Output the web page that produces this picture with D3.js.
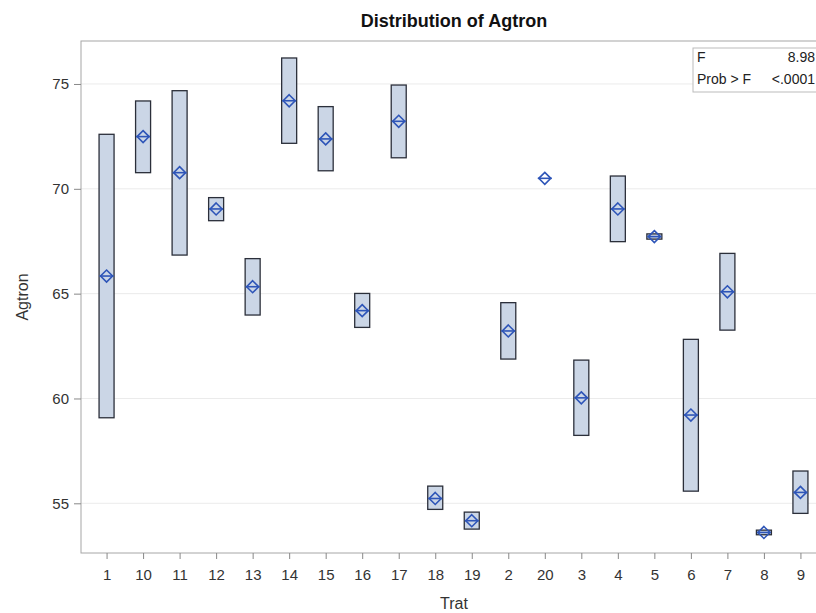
<!DOCTYPE html>
<meta charset="utf-8">
<style>
body { margin: 0; background: #fff; }
svg { display: block; font-family: Arial, "Liberation Sans", sans-serif; }
.axis text { font-size: 15px; fill: #333; }
.axis path, .axis line { stroke: #888; }
</style>
<svg width="816" height="613"></svg>
<script src="https://d3js.org/d3.v7.min.js"></script>
<script>
// Treatment levels, in the (alphabetical) order SAS sorted them
var trats = ["1","10","11","12","13","14","15","16","17","18","19","2","20","3","4","5","6","7","8","9"];
// mean Agtron per treatment
var means = [65.84, 72.49, 70.77, 69.04, 65.33, 74.2, 72.38, 64.19, 73.22, 55.23, 54.17, 63.22, 70.5, 60.03, 69.04, 67.72, 59.21, 65.09, 53.61, 55.52];
// box low / high (min - max of the group)
var lows  = [59.08, 70.77, 66.84, 68.48, 63.98, 72.17, 70.86, 63.39, 71.48, 54.71, 53.77, 61.88, 70.5, 58.24, 67.48, 67.6, 55.58, 63.26, 53.5, 54.52];
var highs = [72.6, 74.19, 74.68, 69.58, 66.67, 76.24, 73.92, 65.01, 74.95, 55.82, 54.58, 64.57, 70.5, 61.83, 70.61, 67.85, 62.82, 66.92, 53.72, 56.54];
var yTicks = [55, 60, 65, 70, 75];
var statLabels = ["F", "Prob > F"];
var statValues = ["8.98", "<.0001"];

// plot area (right side runs past the window, as in the reference crop)
var svg = d3.select("svg"),
    plotL = 81, plotT = 41, plotR = 826, plotB = 553;

var x = d3.scalePoint()
    .domain(trats)
    .range([plotL, plotR])
    .padding(0.7);

var y = d3.scaleLinear()
    .domain([52.63, 77.05])
    .range([plotB, plotT]);

// gridlines
svg.append("g").selectAll("line")
  .data(yTicks)
  .enter().append("line")
    .attr("x1", plotL).attr("x2", plotR)
    .attr("y1", function(d) { return y(d); })
    .attr("y2", function(d) { return y(d); })
    .attr("stroke", "#ebebeb");

// frame
svg.append("rect")
    .attr("x", plotL).attr("y", plotT)
    .attr("width", plotR - plotL).attr("height", plotB - plotT)
    .attr("fill", "none").attr("stroke", "#a6a6a6");

// axes
svg.append("g")
    .attr("class", "axis")
    .attr("transform", "translate(0," + plotB + ")")
    .call(d3.axisBottom(x).tickSize(6).tickPadding(10).tickSizeOuter(0))
    .call(function(g) { g.select(".domain").remove(); });

svg.append("g")
    .attr("class", "axis")
    .attr("transform", "translate(" + plotL + ",0)")
    .call(d3.axisLeft(y).tickValues(yTicks).tickSize(7).tickPadding(5).tickSizeOuter(0))
    .call(function(g) { g.select(".domain").remove(); });

// boxes
var bw = 15;
svg.append("g").selectAll("rect")
  .data(trats)
  .enter().append("rect")
    .attr("x", function(d) { return x(d) - bw / 2; })
    .attr("y", function(d, i) { return y(highs[i]); })
    .attr("width", bw)
    .attr("height", function(d, i) { return Math.max(0, y(lows[i]) - y(highs[i])); })
    .attr("fill", "#cbd6e6")
    .attr("stroke", "#2b2f3a")
    .attr("stroke-width", 1.3);

// mean diamonds
var dh = 6;
var mk = svg.append("g").selectAll("g")
  .data(trats)
  .enter().append("g")
    .attr("transform", function(d, i) { return "translate(" + x(d) + "," + y(means[i]) + ")"; });

mk.append("path")
    .attr("d", "M0," + (-dh) + "L" + dh + ",0L0," + dh + "L" + (-dh) + ",0Z")
    .attr("fill", "none")
    .attr("stroke", "#2e55b8")
    .attr("stroke-width", 1.6);

mk.append("line")
    .attr("x1", -dh - 1).attr("x2", dh + 1)
    .attr("stroke", "#2e55b8")
    .attr("stroke-width", 1.6);

// title and axis labels
svg.append("text")
    .attr("x", 454).attr("y", 27)
    .attr("text-anchor", "middle")
    .style("font-size", "18px").style("font-weight", "bold")
    .attr("fill", "#111")
    .text("Distribution of Agtron");

svg.append("text")
    .attr("x", 454).attr("y", 609)
    .attr("text-anchor", "middle")
    .style("font-size", "16px").attr("fill", "#333")
    .text("Trat");

svg.append("text")
    .attr("transform", "translate(28," + 297 + ") rotate(-90)")
    .attr("text-anchor", "middle")
    .style("font-size", "16px").attr("fill", "#333")
    .text("Agtron");

// F test inset
var inset = svg.append("g").attr("transform", "translate(693,48)");
inset.append("rect")
    .attr("width", 140).attr("height", 44)
    .attr("fill", "#fff").attr("stroke", "#bbb");
inset.selectAll("text.lab")
  .data(statLabels)
  .enter().append("text")
    .attr("class", "lab")
    .attr("x", 4).attr("y", function(d, i) { return 14 + i * 22; })
    .style("font-size", "14px").attr("fill", "#222")
    .text(function(d) { return d; });
inset.selectAll("text.val")
  .data(statValues)
  .enter().append("text")
    .attr("class", "val")
    .attr("x", 122).attr("y", function(d, i) { return 14 + i * 22; })
    .attr("text-anchor", "end")
    .style("font-size", "14px").attr("fill", "#222")
    .text(function(d) { return d; });
</script>
